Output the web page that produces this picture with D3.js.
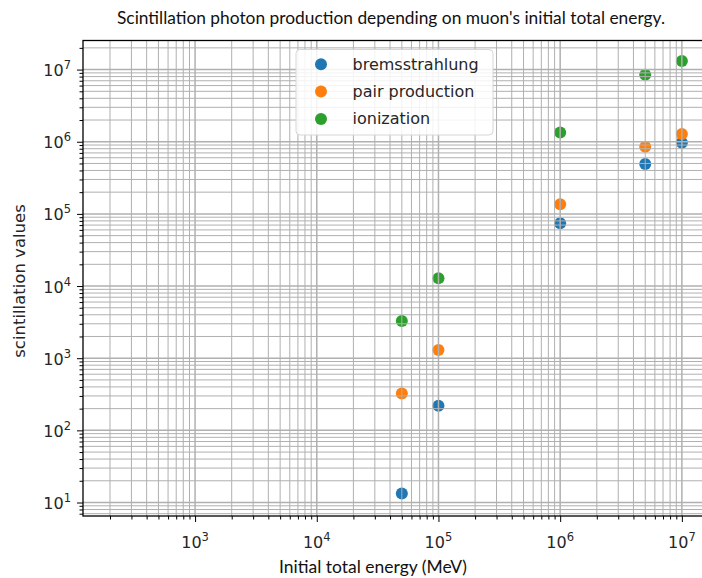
<!DOCTYPE html>
<html>
<head>
<meta charset="utf-8">
<script src="https://cdn.jsdelivr.net/npm/d3@7"></script>
<style>
  html, body { margin: 0; padding: 0; background: #fff; }
  svg { display: block; }
</style>
</head>
<body>
<svg id="chart" width="702" height="578"></svg>
<script>
// ---- data ----
const energies = [5e4, 1e5, 1e6, 5e6, 1e7];
const bremsstrahlung = [13.3, 219, 7.4e4, 4.9e5, 9.7e5];
const pairProduction = [325, 1295, 1.36e5, 8.5e5, 1.28e6];
const ionization = [3270, 12800, 1.34e6, 8.5e6, 1.32e7];
const seriesNames = ["bremsstrahlung", "pair production", "ionization"];
const seriesColors = ["#1f77b4", "#ff7f0e", "#2ca02c"];
const xTickExponents = [3, 4, 5, 6, 7];
const yTickExponents = [1, 2, 3, 4, 5, 6, 7];
const titleText = "Scintillation photon production depending on muon's initial total energy.";
const xLabelText = "Initial total energy (MeV)";
const yLabelText = "scintillation values";

// ---- layout ----
const L = 83, R = 704, T = 40.5, B = 516;
const svg = d3.select("#chart");

const x = d3.scaleLog().domain([120, 1.52e7]).range([L, R]);
const y = d3.scaleLog().domain([6.5, 2.53e7]).range([B, T]);

function minorValues(scale) {
  const [a, b] = scale.domain();
  const out = [];
  for (let d = -1; d <= 9; d++) {
    for (let k = 2; k <= 9; k++) {
      const v = k * Math.pow(10, d);
      if (v >= a && v <= b) out.push(v);
    }
  }
  return out;
}
const xMajor = xTickExponents.map(e => Math.pow(10, e));
const yMajor = yTickExponents.map(e => Math.pow(10, e));
const xMinor = minorValues(x);
const yMinor = minorValues(y);

svg.append("defs").append("clipPath").attr("id", "clip")
  .append("rect").attr("x", L).attr("y", T).attr("width", R - L).attr("height", B - T);

// ---- points ----
const seriesData = [bremsstrahlung, pairProduction, ionization];
const pts = svg.append("g").attr("clip-path", "url(#clip)");
seriesData.forEach((vals, si) => {
  pts.selectAll(null).data(energies.map((e, i) => [e, vals[i]])).join("circle")
    .attr("cx", d => x(d[0])).attr("cy", d => y(d[1])).attr("r", 6)
    .attr("fill", seriesColors[si]);
});

// ---- grid (drawn above points) ----
const grid = svg.append("g").attr("clip-path", "url(#clip)");
grid.selectAll(".gxm").data(xMinor).join("line")
  .attr("x1", d => x(d)).attr("x2", d => x(d)).attr("y1", T).attr("y2", B)
  .attr("stroke", "#b0b0b0").attr("stroke-width", 1);
grid.selectAll(".gym").data(yMinor).join("line")
  .attr("y1", d => y(d)).attr("y2", d => y(d)).attr("x1", L).attr("x2", R)
  .attr("stroke", "#b0b0b0").attr("stroke-width", 1);
grid.selectAll(".gxM").data(xMajor).join("line")
  .attr("x1", d => x(d)).attr("x2", d => x(d)).attr("y1", T).attr("y2", B)
  .attr("stroke", "#b0b0b0").attr("stroke-width", 1.5);
grid.selectAll(".gyM").data(yMajor).join("line")
  .attr("y1", d => y(d)).attr("y2", d => y(d)).attr("x1", L).attr("x2", R)
  .attr("stroke", "#b0b0b0").attr("stroke-width", 1.5);

// ---- axes ticks ----
const axX = svg.append("g").attr("transform", `translate(0,${B})`);
axX.call(d3.axisBottom(x).tickValues(xMajor).tickSize(6).tickFormat(""));
const axXm = svg.append("g").attr("transform", `translate(0,${B})`);
axXm.call(d3.axisBottom(x).tickValues(xMinor).tickSize(3.5).tickFormat(""));
const axY = svg.append("g").attr("transform", `translate(${L},0)`);
axY.call(d3.axisLeft(y).tickValues(yMajor).tickSize(6).tickFormat(""));
const axYm = svg.append("g").attr("transform", `translate(${L},0)`);
axYm.call(d3.axisLeft(y).tickValues(yMinor).tickSize(3.5).tickFormat(""));
[axX, axXm, axY, axYm].forEach(g => {
  g.select(".domain").remove();
  g.selectAll("line").attr("stroke", "#000").attr("stroke-width", 1);
});

// spines
svg.append("rect").attr("x", L).attr("y", T).attr("width", R - L).attr("height", B - T)
  .attr("fill", "none").attr("stroke", "#000").attr("stroke-width", 1.3);

// ---- tick labels ----
const tickFont = "'DejaVu Sans', sans-serif";
xMajor.forEach((v, i) => {
  const t = svg.append("text").attr("x", x(v)).attr("y", 547.5)
    .attr("text-anchor", "middle").attr("font-family", tickFont).attr("font-size", 16).attr("fill", "#262626");
  t.append("tspan").text("10");
  t.append("tspan").attr("dy", -7).attr("font-size", 11.5).text(xTickExponents[i]);
});
yMajor.forEach((v, i) => {
  const t = svg.append("text").attr("x", 71).attr("y", y(v) + 6.5)
    .attr("text-anchor", "end").attr("font-family", tickFont).attr("font-size", 16).attr("fill", "#262626");
  t.append("tspan").text("10");
  t.append("tspan").attr("dy", -7).attr("font-size", 11.5).text(yTickExponents[i]);
});

// ---- labels ----
function fitText(sel, target) {
  let fs = +sel.attr("font-size");
  for (let k = 0; k < 4; k++) {
    const w = sel.node().getComputedTextLength();
    if (w > 0) { fs = fs * target / w; sel.attr("font-size", fs); }
  }
}
const title = svg.append("text").attr("x", 391).attr("y", 24).attr("text-anchor", "middle")
  .attr("font-family", "Lato, 'Open Sans', sans-serif").attr("font-size", 14).attr("fill", "#111")
  .text(titleText);
fitText(title, 548);
const xl = svg.append("text").attr("x", 373).attr("y", 573).attr("text-anchor", "middle")
  .attr("font-family", "Lato, 'Open Sans', sans-serif").attr("font-size", 14).attr("fill", "#111")
  .text(xLabelText);
fitText(xl, 188);
svg.append("text").attr("transform", "translate(25,281) rotate(-90)").attr("text-anchor", "middle")
  .attr("font-family", tickFont).attr("font-size", 16.5).attr("fill", "#262626")
  .text(yLabelText);

// ---- legend ----
const lg = svg.append("g");
lg.append("rect").attr("x", 296).attr("y", 49.5).attr("width", 197).attr("height", 85.5)
  .attr("rx", 4).attr("fill", "#fff").attr("fill-opacity", 0.85)
  .attr("stroke", "#d6d6d6").attr("stroke-width", 1);
seriesNames.forEach((name, i) => {
  const cy = 64.3 + i * 27.3;
  lg.append("circle").attr("cx", 321).attr("cy", cy).attr("r", 6).attr("fill", seriesColors[i]);
  lg.append("text").attr("x", 352.5).attr("y", cy + 5.5).attr("font-family", tickFont)
    .attr("font-size", 16).attr("fill", "#262626").text(name);
});
</script>
</body>
</html>
